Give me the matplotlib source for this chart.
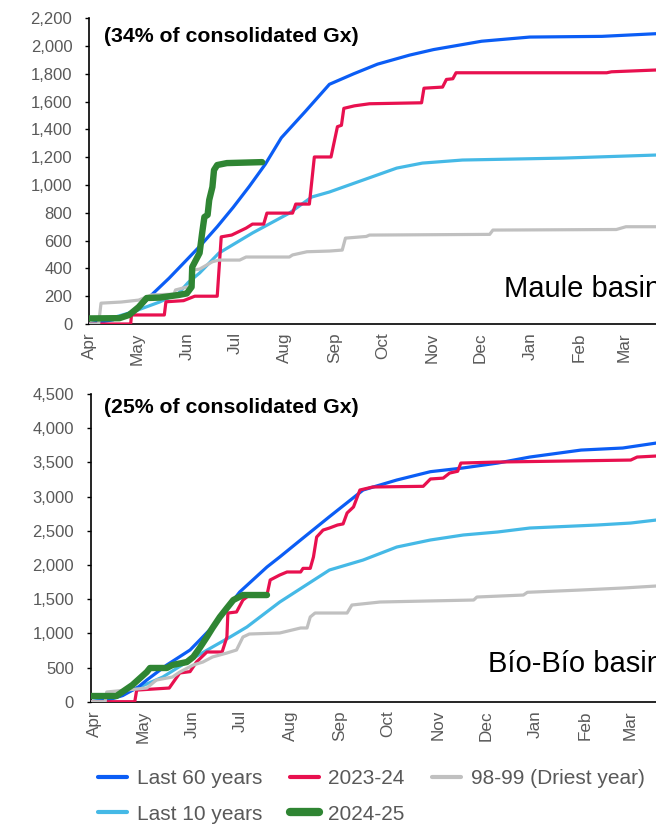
import matplotlib
matplotlib.use("Agg")
import matplotlib.pyplot as plt
from matplotlib.ticker import FuncFormatter

plt.rcParams['font.family'] = ['Liberation Sans', 'DejaVu Sans']

# x values are days counted from 1 April
months = ['Apr', 'May', 'Jun', 'Jul', 'Aug', 'Sep', 'Oct', 'Nov', 'Dec', 'Jan', 'Feb', 'Mar']
month_start = [0, 30, 61, 91, 122, 153, 183, 214, 244, 275, 306, 334]

labels = ['Last 60 years', 'Last 10 years', '2023-24', '2024-25', '98-99 (Driest year)']
colors = ['#0B5DF5', '#45B9E6', '#E8104F', '#2F8533', '#C0C0C0']

# ---- Maule basin ----
maule_l60_x = [0, 15, 30, 40, 50, 60, 70, 80, 90, 100, 110, 120, 135, 150, 165, 180, 200, 215, 245, 275, 320, 364]
maule_l60_y = [0, 30, 100, 220, 330, 450, 570, 700, 840, 990, 1150, 1340, 1530, 1725, 1800, 1870, 1935, 1975, 2035, 2065, 2070, 2095]

maule_l10_x = [0, 6, 27, 44, 56, 62, 69, 81, 102, 125, 139, 150, 171, 192, 208, 233, 296, 354, 364]
maule_l10_y = [0, 15, 86, 158, 223, 300, 367, 510, 655, 798, 914, 950, 1036, 1122, 1158, 1180, 1194, 1216, 1220]

maule_2324_x = [0, 26, 26.5, 47, 48, 59, 66, 80, 82.5, 89, 98, 102, 109, 111, 127, 129, 137.5, 140.6, 151, 155,
                157.5, 159, 165.6, 175, 207.5, 209, 220.6, 223, 227, 229, 323, 326, 354, 364]
maule_2324_y = [0, 0, 65, 65, 160, 168, 200, 200, 627, 640, 690, 719, 719, 798, 798, 863, 863, 1202, 1202, 1420,
                1430, 1552, 1570, 1585, 1592, 1697, 1705, 1760, 1765, 1808, 1808, 1815, 1828, 1830]

maule_2425_x = [0, 19, 25, 31, 36, 44, 56, 61, 64, 64.4, 69, 70.6, 72, 74, 75, 77, 78, 80, 86, 108]
maule_2425_y = [40, 42, 65, 122, 187, 190, 209, 220, 266, 410, 511, 655, 770, 785, 892, 986, 1108, 1144, 1158, 1165]

maule_9899_x = [0, 6, 7.5, 20, 31, 39, 53, 54, 61, 63.5, 64, 69, 77, 81, 94, 98, 125, 127, 136, 150, 158, 160,
                173, 175, 250, 252, 329, 335, 364]
maule_9899_y = [0, 0, 150, 158, 172, 209, 215, 245, 266, 266, 388, 395, 448, 460, 460, 482, 482, 497, 520, 525,
                532, 618, 630, 640, 645, 676, 680, 700, 700]

# ---- Bío-Bío basin ----
bio_l60_x = [0, 10, 20, 30, 35, 47.5, 62, 68, 76, 93, 110, 118, 131, 149, 170, 191, 212, 232, 254, 274, 306, 332, 353, 364]
bio_l60_y = [0, 20, 90, 220, 317, 537, 756, 900, 1093, 1605, 1970, 2117, 2365, 2706, 3096, 3242, 3364, 3417, 3490,
             3578, 3680, 3710, 3783, 3800]

bio_l10_x = [0, 15, 30.6, 45, 62, 76, 87, 97.5, 118, 149, 170, 191, 212, 232.5, 254, 274, 316, 337, 353, 364]
bio_l10_y = [0, 60, 215, 361, 610, 800, 946, 1093, 1458, 1926, 2072, 2262, 2365, 2438, 2482, 2540, 2584, 2613, 2657, 2670]

bio_2324_x = [0, 27.5, 28.7, 49, 52.5, 55.6, 62, 66, 72.5, 82, 85, 85.6, 91, 95, 99, 110, 112, 118, 122.5, 131,
              132.5, 137, 139, 141, 145, 149, 154, 157.5, 160, 164, 168, 176, 207.5, 212, 220, 224, 229, 231, 254,
              337, 341, 353, 364]
bio_2324_y = [0, 0, 170, 200, 317, 420, 440, 580, 727, 727, 946, 1297, 1312, 1487, 1560, 1560, 1780, 1853, 1897,
              1897, 1950, 1950, 2116, 2408, 2510, 2540, 2584, 2600, 2760, 2848, 3096, 3140, 3150, 3257, 3270, 3344,
              3370, 3490, 3505, 3534, 3578, 3593, 3600]

bio_2425_x = [0, 16, 26, 35, 37, 47.5, 51, 60, 64, 68, 72.5, 76, 80.6, 85, 89, 95, 110]
bio_2425_y = [83, 83, 244, 434, 493, 493, 537, 580, 654, 785, 946, 1078, 1239, 1370, 1487, 1560, 1560]

bio_9899_x = [0, 9, 10, 35, 41, 51, 55.6, 64, 70, 76, 85, 91, 95, 99, 118, 131, 135, 137, 140, 160, 163, 180.6,
              239, 241, 270, 272.5, 305.6, 332.5, 353, 364]
bio_9899_y = [0, 0, 142, 200, 317, 361, 434, 537, 580, 654, 712, 756, 946, 990, 1005, 1078, 1078, 1239, 1297, 1297,
              1414, 1458, 1487, 1531, 1560, 1600, 1633, 1663, 1692, 1700]

fig = plt.figure(figsize=(6.56, 8.25), dpi=100)

W, H = 656.0, 825.0
ax1 = fig.add_axes([89 / W, 1 - 324 / H, (672.4 - 89) / W, (324 - 18.3) / H])
ax2 = fig.add_axes([90.7 / W, 1 - 701.7 / H, (674 - 90.7) / W, (701.7 - 394) / H])

widths = [2.3, 2.3, 2.3, 4.6, 2.3]
zorder = [3, 2, 4, 6, 5]

maule = [(maule_l60_x, maule_l60_y), (maule_l10_x, maule_l10_y), (maule_2324_x, maule_2324_y),
         (maule_2425_x, maule_2425_y), (maule_9899_x, maule_9899_y)]
bio = [(bio_l60_x, bio_l60_y), (bio_l10_x, bio_l10_y), (bio_2324_x, bio_2324_y),
       (bio_2425_x, bio_2425_y), (bio_9899_x, bio_9899_y)]

handles = []
for i in range(5):
    h, = ax1.plot(maule[i][0], maule[i][1], color=colors[i], lw=widths[i], zorder=zorder[i],
                  solid_capstyle='round', solid_joinstyle='round', label=labels[i])
    ax2.plot(bio[i][0], bio[i][1], color=colors[i], lw=widths[i], zorder=zorder[i],
             solid_capstyle='round', solid_joinstyle='round')
    handles.append(h)

fmt = FuncFormatter(lambda v, p: '{:,.0f}'.format(v))
ax1.set_ylim(0, 2200)
ax1.set_yticks(range(0, 2201, 200))
ax2.set_ylim(0, 4500)
ax2.set_yticks(range(0, 4501, 500))

for ax, off in [(ax1, 0), (ax2, 2.5)]:
    ax.set_xlim(0, 364)
    ax.set_xticks([m + off for m in month_start])
    ax.set_xticklabels(months, rotation=90)
    ax.yaxis.set_major_formatter(fmt)
    ax.spines['top'].set_visible(False)
    ax.spines['right'].set_visible(False)
    ax.spines['left'].set_linewidth(1.2)
    ax.spines['bottom'].set_linewidth(1.2)
    ax.tick_params(axis='y', length=3, width=1, direction='out', pad=9, labelsize=12, labelcolor='#595959')
    ax.tick_params(axis='x', length=0, pad=6, labelsize=12.3, labelcolor='#595959')

fig.text(104 / W, 1 - 37 / H, '(34% of consolidated Gx)', fontsize=15.3, fontweight='bold', va='center', ha='left')
fig.text(104 / W, 1 - 407 / H, '(25% of consolidated Gx)', fontsize=15.3, fontweight='bold', va='center', ha='left')
# basin names run past the right edge, as in the source
fig.text(504 / W, 1 - 289 / H, 'Maule basin', fontsize=21, va='center', ha='left')
fig.text(488 / W, 1 - 664 / H, 'Bío-Bío basin', fontsize=21, va='center', ha='left')

leg = fig.legend(handles=handles, labels=labels, ncol=3, loc='upper left',
                 bbox_to_anchor=(98 / W, 1 - 769 / H), frameon=False, fontsize=15,
                 handlelength=1.4, handletextpad=0.45, columnspacing=1.33, labelspacing=0.8,
                 borderpad=0, borderaxespad=0)
for t in leg.get_texts():
    t.set_color('#595959')
for lh, w in zip(leg.legend_handles, widths):
    lh.set_linewidth(w * 1.3)
    lh.set_solid_capstyle('round')

fig.savefig('out.png', dpi=100)
